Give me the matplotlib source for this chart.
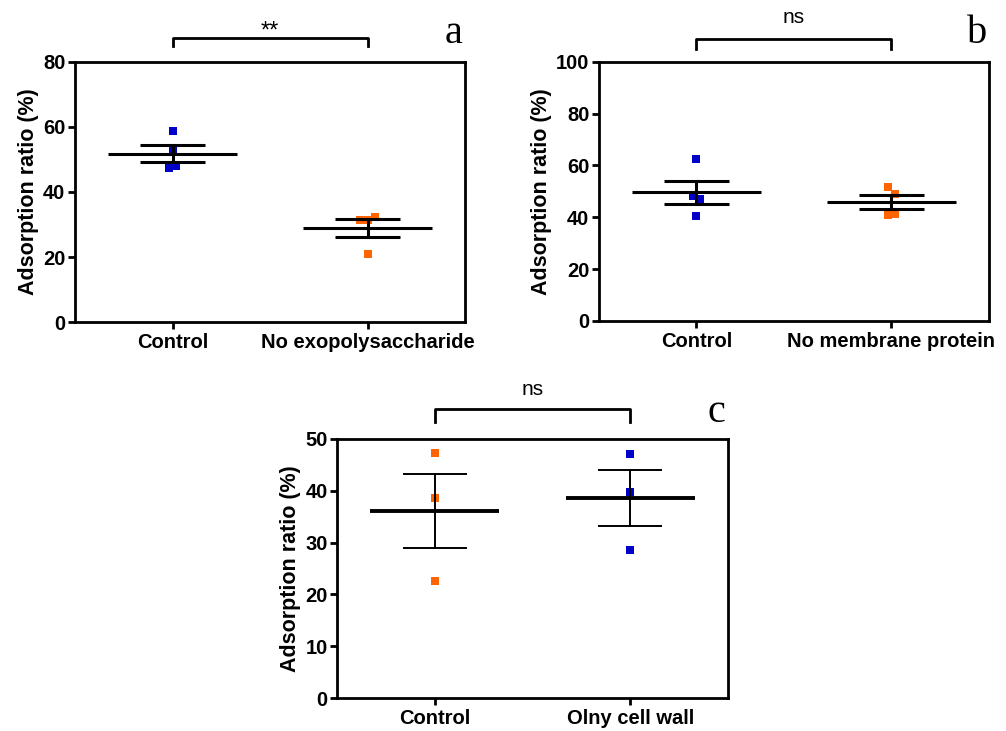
import matplotlib
matplotlib.use("Agg")
import matplotlib.pyplot as plt
import matplotlib.transforms as mtransforms

# ---- data ----
a_categories = ["Control", "No exopolysaccharide"]
a_control = [58.9, 52.9, 47.3, 48.0]
a_treated = [31.4, 31.4, 32.3, 20.8]
a_means = [51.8, 28.9]
a_sem = [2.7, 2.7]
a_sig = "**"

b_categories = ["Control", "No membrane protein"]
b_control = [62.4, 48.1, 47.0, 40.5]
b_treated = [51.8, 48.9, 40.9, 41.3]
b_means = [49.6, 45.8]
b_sem = [4.5, 2.7]
b_sig = "ns"

c_categories = ["Control", "Olny cell wall"]
c_control = [47.3, 38.5, 22.6]
c_treated = [47.1, 39.8, 28.6]
c_means = [36.1, 38.5]
c_sem = [7.2, 5.4]
c_sig = "ns"

ylabel = "Adsorption ratio (%)"

BLUE = "#0000c8"
ORANGE = "#ff6400"
SANS = "Liberation Sans"

fig = plt.figure(figsize=(10.06, 7.31), dpi=100)


def panel(rect, cats, groups, colors, jitters, means, sems, ymax, ystep, sig,
          letter, mean_lw, err_lw, br_y, br_drop, sig_y, let_y, sig_size):
    ax = fig.add_axes(rect)
    for i, (vals, col, jit) in enumerate(zip(groups, colors, jitters)):
        xs = [i + j for j in jit]
        ax.plot(xs, vals, 's', color=col, ms=5.2, mew=0, zorder=2)
    for i, (m, s) in enumerate(zip(means, sems)):
        ax.plot([i - 0.33, i + 0.33], [m, m], color="black", lw=mean_lw,
                zorder=3, solid_capstyle="butt")
        ax.plot([i, i], [m - s, m + s], color="black", lw=err_lw, zorder=3)
        for v in (m - s, m + s):
            ax.plot([i - 0.165, i + 0.165], [v, v], color="black", lw=err_lw,
                    zorder=3, solid_capstyle="butt")
    ax.set_xlim(-0.5, 1.5)
    ax.set_ylim(0, ymax)
    ax.set_yticks(range(0, ymax + 1, ystep))
    ax.set_xticks(range(len(cats)))
    ax.set_xticklabels(cats)
    for sp in ax.spines.values():
        sp.set_linewidth(2.0)
    ax.tick_params(axis="both", direction="out", length=5, width=2.0,
                   labelsize=14.5, pad=2)
    ax.tick_params(axis="x", pad=3)
    for lab in ax.get_xticklabels() + ax.get_yticklabels():
        lab.set_fontfamily(SANS)
        lab.set_fontweight("bold")
    ax.set_ylabel(ylabel, fontsize=15.5, fontweight="bold", family=SANS,
                  labelpad=3)
    trans = mtransforms.blended_transform_factory(ax.transData, ax.transAxes)
    ax.plot([0, 0, 1, 1], [br_y - br_drop, br_y, br_y, br_y - br_drop],
            color="black", lw=2.0, transform=trans, clip_on=False)
    ax.text(0.5, sig_y, sig, transform=trans, ha="center", va="center",
            fontsize=sig_size, family=SANS)
    ax.text(0.97, let_y, letter, transform=ax.transAxes, ha="center",
            va="center", fontsize=29, family="Liberation Serif")
    return ax


panel([0.0746, 0.5595, 0.3877, 0.3557], a_categories, [a_control, a_treated],
      [BLUE, ORANGE], [[0, 0, -0.02, 0.02], [-0.04, 0, 0.04, 0]],
      a_means, a_sem, 80, 20, a_sig, "a", 2.2, 2.2, 1.091, 0.028, 1.118, 1.11,
      17)

panel([0.5954, 0.5609, 0.3877, 0.3547], b_categories, [b_control, b_treated],
      [BLUE, ORANGE], [[0, -0.02, 0.02, 0], [-0.02, 0.02, -0.02, 0.02]],
      b_means, b_sem, 100, 20, b_sig, "b", 2.2, 2.2, 1.086, 0.037, 1.17, 1.11,
      15)

panel([0.3353, 0.0447, 0.3881, 0.3551], c_categories, [c_control, c_treated],
      [ORANGE, BLUE], [[0, 0, 0], [0, 0, 0]],
      c_means, c_sem, 50, 10, c_sig, "c", 2.8, 1.4, 1.113, 0.05, 1.19, 1.10,
      15)

fig.savefig("out.png", dpi=100)
